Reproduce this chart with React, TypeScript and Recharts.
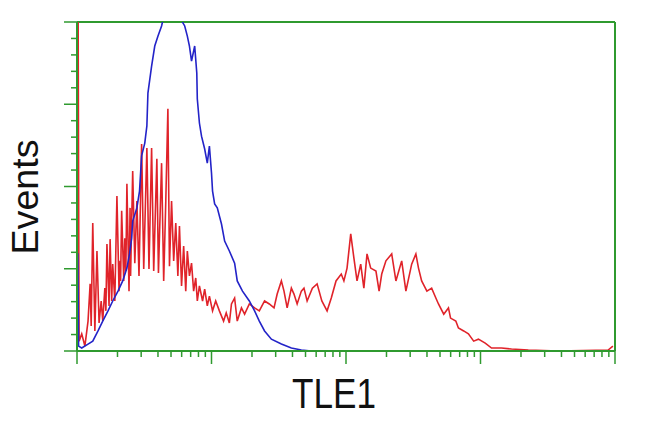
import * as React from 'react';
import { Line, LineChart, ReferenceLine, XAxis, YAxis } from 'recharts';

// channel positions (0..1024, 4 log decades) and event counts (frame top = 100)
const redCh = [
  0, 2, 4, 9, 15, 21, 25, 27, 30, 34, 38,
  42, 46, 49, 53, 55, 57, 61, 63, 66, 68,
  72, 76, 80, 82, 83, 85, 89, 91, 93, 95,
  99, 101, 102, 106, 110, 114, 118, 123, 127, 133,
  137, 142, 146, 152, 155, 161, 165, 169, 173, 176,
  180, 184, 188, 192, 195, 199, 203, 207, 210, 214,
  218, 222, 226, 229, 233, 239, 243, 248, 252, 258,
  264, 271, 279, 284, 290, 294, 300, 305, 313, 319,
  328, 338, 347, 357, 366, 375, 381, 389, 394, 400,
  408, 413, 419, 427, 432, 438, 448, 457, 466, 476,
  484, 493, 503, 508, 514, 521, 527, 533, 540, 546,
  552, 559, 569, 575, 580, 588, 599, 607, 618, 626,
  637, 645, 650, 656, 666, 675, 683, 688, 698, 707,
  711, 721, 726, 736, 745, 755, 764, 777, 789, 808,
  827, 859, 916, 1011, 1020,
];
const redVal = [
  110, 110, 3.0, 5.2, 1.5, 9.1, 20.4, 7.6, 38.9, 6.1, 30.4,
  8.5, 15.2, 9.1, 19.1, 12.2, 32.5, 13.7, 34.0, 15.2, 26.4,
  15.2, 47.1, 18.2, 27.4, 21.3, 42.6, 21.3, 34.3, 24.3, 50.8,
  18.2, 43.5, 22.8, 54.7, 26.7, 45.6, 22.8, 62.9, 24.9, 61.7,
  24.9, 61.7, 24.3, 58.4, 23.7, 57.1, 21.3, 45.6, 73.6, 25.8,
  45.6, 27.4, 38.9, 22.8, 38.0, 19.8, 31.9, 18.2, 30.4, 22.8,
  26.7, 18.2, 22.2, 15.2, 19.8, 15.2, 18.8, 13.7, 16.7, 12.2,
  15.2, 12.2, 9.1, 11.6, 8.5, 14.3, 16.1, 9.1, 13.1, 11.2,
  14.3, 13.1, 12.2, 15.2, 14.3, 13.1, 17.3, 21.3, 18.2, 13.1,
  19.1, 17.3, 14.3, 18.2, 19.1, 15.2, 19.1, 20.4, 15.2, 12.2,
  16.1, 21.3, 23.4, 21.3, 25.2, 35.6, 28.3, 21.3, 26.4, 19.1,
  29.5, 25.2, 24.3, 18.2, 23.4, 27.4, 29.5, 21.3, 27.4, 18.2,
  26.4, 29.5, 25.2, 21.3, 18.2, 19.1, 16.1, 14.3, 11.2, 13.1,
  10.0, 9.1, 7.0, 6.1, 5.2, 3.0, 3.6, 2.4, 0.9, 0.9,
  0.6, 0.3, 0, 0.3, 1.5,
];

const blueCh = [
  0, 1.5, 3, 9, 21, 30, 40, 49, 59, 68, 78,
  87, 95, 100, 104, 106, 114, 119, 123, 129, 133,
  135, 142, 148, 154, 161, 167, 186, 205, 210, 214,
  218, 224, 228, 229, 233, 237, 243, 248, 252, 256,
  258, 262, 267, 275, 281, 290, 300, 305, 315, 328,
  338, 347, 357, 370, 389, 408, 427, 446,
];
const blueVal = [
  29.5, 29.5, 1.5, 0.9, 2.1, 3.0, 6.1, 9.1, 12.2, 15.2, 18.2,
  21.3, 25.2, 29.5, 34.3, 39.5, 43.5, 48.6, 59.3, 63.2, 68.4,
  78.4, 86.6, 92.7, 95.7, 98.8, 103, 104, 98.8, 95.7, 92.7,
  88.1, 92.7, 84.5, 76.6, 69.3, 65.3, 61.4, 57.1, 62.3, 54.1,
  48.6, 44.7, 43.5, 38.6, 33.4, 30.4, 26.7, 21.3, 18.2, 15.2,
  12.2, 9.1, 6.1, 3.6, 2.1, 0.9, 0.3, 0,
];

const decades = [0, 1, 2, 3, 4];
const minorSteps = [2, 3, 4, 5, 6, 7, 8, 9];
const yMajor = [0, 25, 50, 75, 100];
const yMinorStep = 5;

const CH_PER_DECADE = 256;
const GREEN = '#2f9a2f';

const xMajor = decades.map((d) => d * CH_PER_DECADE);
const xTicks = [
  ...xMajor,
  ...decades.slice(0, 4).flatMap((d) => minorSteps.map((k) => (d + Math.log10(k)) * CH_PER_DECADE)),
].sort((a, b) => a - b);
const yTicks = Array.from({ length: 100 / yMinorStep + 1 }, (_, i) => i * yMinorStep);

const redData = redCh.map((ch, i) => ({ ch, v: redVal[i] }));
const blueData = blueCh.map((ch, i) => ({ ch, v: blueVal[i] }));

function XTick(props: any) {
  const { x, y, payload } = props;
  const major = xMajor.some((m) => Math.abs(m - payload.value) < 0.01);
  return <line x1={x} y1={y} x2={x} y2={y + (major ? 13 : 6)} stroke={GREEN} strokeWidth={1.5} />;
}

function YTick(props: any) {
  const { x, y, payload } = props;
  const major = yMajor.includes(payload.value);
  return <line x1={x} y1={y} x2={x - (major ? 13 : 6)} y2={y} stroke={GREEN} strokeWidth={1.5} />;
}

const font = '"Liberation Sans", Arial, sans-serif';

export default function App() {
  return (
    <div style={{ position: 'absolute', left: 0, top: 0, width: 650, height: 432, background: '#fff' }}>
      <LineChart width={650} height={432} margin={{ top: 22, right: 35, bottom: 0, left: 0 }}>
        <XAxis
          type="number"
          dataKey="ch"
          domain={[0, 1024]}
          ticks={xTicks}
          interval={0}
          tickSize={0}
          tickMargin={0}
          tickLine={false}
          tick={<XTick />}
          height={81}
          axisLine={{ stroke: GREEN, strokeWidth: 2 }}
          allowDataOverflow
          label={{
            content: () => (
              <text
                x={334}
                y={408}
                textAnchor="middle"
                fontFamily={font}
                fontSize={42}
                textLength={84}
                lengthAdjust="spacingAndGlyphs"
                fill="#111"
              >
                TLE1
              </text>
            ),
          }}
        />
        <YAxis
          type="number"
          domain={[0, 100]}
          ticks={yTicks}
          interval={0}
          tickSize={0}
          tickMargin={0}
          tickLine={false}
          tick={<YTick />}
          width={77}
          axisLine={{ stroke: GREEN, strokeWidth: 2 }}
          allowDataOverflow
          label={{
            content: () => (
              <text
                x={38}
                y={197}
                textAnchor="middle"
                transform="rotate(-90 38 197)"
                fontFamily={font}
                fontSize={36}
                textLength={115}
                lengthAdjust="spacingAndGlyphs"
                fill="#111"
              >
                Events
              </text>
            ),
          }}
        />
        <ReferenceLine y={100} stroke={GREEN} strokeWidth={2} />
        <ReferenceLine x={1024} stroke={GREEN} strokeWidth={2} />
        <Line
          data={redData}
          dataKey="v"
          type="linear"
          stroke="#e0232a"
          strokeWidth={1.6}
          dot={false}
          isAnimationActive={false}
        />
        <Line
          data={blueData}
          dataKey="v"
          type="linear"
          stroke="#2323c8"
          strokeWidth={1.6}
          dot={false}
          isAnimationActive={false}
        />
      </LineChart>
    </div>
  );
}
